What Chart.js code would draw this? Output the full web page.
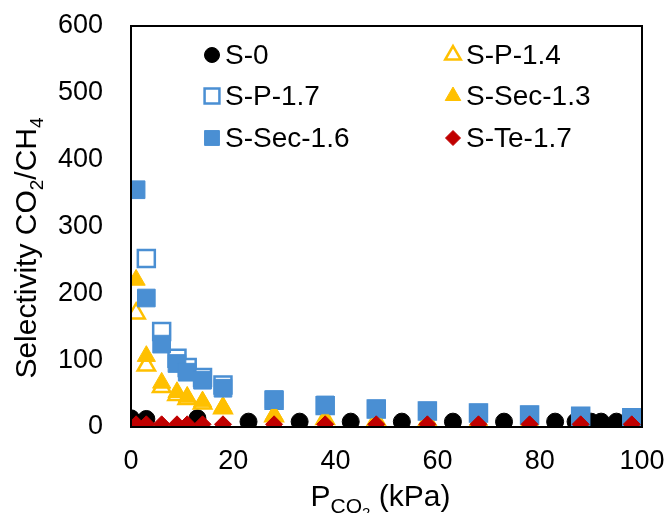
<!DOCTYPE html>
<html>
<head>
<meta charset="utf-8">
<script src="https://cdn.jsdelivr.net/npm/chart.js@4/dist/chart.umd.min.js"></script>
<style>
  html, body { margin: 0; padding: 0; background: #fff; }
  #wrap { width: 667px; height: 513px; }
</style>
</head>
<body>
<div id="wrap"><canvas id="c" width="667" height="513"></canvas></div>
<script>
const FONT = "'Liberation Sans', Arial, sans-serif";

// series data (P_CO2 in kPa, selectivity)
const s0X = [0, 3, 13, 23, 33, 43, 53, 63, 73, 83, 87, 90, 92, 95];
const s0Y = [13, 12, 13, 8, 8, 8, 8, 8, 8, 8, 8, 8, 8, 8];

const sp14X = [1, 3, 6, 9, 11, 14, 18, 28, 38, 48, 58, 68, 78, 88, 98];
const sp14Y = [170, 92, 60, 48, 42, 35, 28, 16, 12, 10, 9, 8, 7, 6, 6];

const sp17X = [3, 6, 9, 11, 14, 18, 28, 38, 48, 58, 68, 78, 88, 98];
const sp17Y = [252, 143, 103, 89, 74, 63, 40, 32, 27, 24, 21, 18, 16, 14];

const sec13X = [1, 3, 6, 9, 11, 14, 18, 28, 38, 48, 58, 68, 78, 88, 98];
const sec13Y = [220, 106, 66, 52, 45, 38, 30, 18, 12, 10, 9, 8, 7, 6, 6];

const sec16X = [1, 3, 6, 9, 11, 14, 18, 28, 38, 48, 58, 68, 78, 88, 98];
const sec16Y = [355, 193, 124, 95, 82, 70, 58, 41, 33, 27, 24, 21, 18, 16, 14];

const te17X = [1, 3, 6, 9, 11, 14, 18, 28, 38, 48, 58, 68, 78, 88, 98];
const te17Y = [4, 4, 4, 4, 4, 4, 4, 4, 4, 4, 4, 4, 4, 4, 4];

const xTicks = [0, 20, 40, 60, 80, 100];
const yTicks = [0, 100, 200, 300, 400, 500, 600];

function pts(xs, ys) {
  return xs.map((x, i) => ({ x: x, y: ys[i] }));
}

const yellow = "#ffc000";
const blue = "#4a8fd3";
const red = "#c00000";

const datasets = [
  { label: "S-0", data: pts(s0X, s0Y), pointStyle: "circle", pointRadius: 8.5,
    backgroundColor: "#000", borderColor: "#000", borderWidth: 1, order: 6 },
  { label: "S-P-1.4", data: pts(sp14X, sp14Y), pointStyle: "triangle", pointRadius: 10,
    backgroundColor: "#fff", borderColor: yellow, borderWidth: 2.5, order: 5 },
  { label: "S-P-1.7", data: pts(sp17X, sp17Y), pointStyle: "rect", pointRadius: 12,
    backgroundColor: "#fff", borderColor: blue, borderWidth: 2.5, order: 4 },
  { label: "S-Sec-1.3", data: pts(sec13X, sec13Y), pointStyle: "triangle", pointRadius: 10.5,
    backgroundColor: yellow, borderColor: yellow, borderWidth: 1, order: 3 },
  { label: "S-Sec-1.6", data: pts(sec16X, sec16Y), pointStyle: "rect", pointRadius: 12.5,
    backgroundColor: blue, borderColor: blue, borderWidth: 1, order: 2 },
  { label: "S-Te-1.7", data: pts(te17X, te17Y), pointStyle: "rectRot", pointRadius: 8.5,
    backgroundColor: red, borderColor: red, borderWidth: 1, order: 1 }
];

// plot frame
const framePlugin = {
  id: "frame",
  afterDatasetsDraw(chart) {
    const a = chart.chartArea, ctx = chart.ctx;
    ctx.save();
    ctx.strokeStyle = "#000";
    ctx.lineWidth = 2;
    ctx.strokeRect(a.left, a.top, a.right - a.left, a.bottom - a.top);
    ctx.restore();
  }
};

// legend in two columns inside the plot
const legendPlugin = {
  id: "gridLegend",
  afterDraw(chart) {
    const ctx = chart.ctx;
    const cols = [212, 453];
    const rows = [55, 96, 138];
    ctx.save();
    ctx.font = "28px " + FONT;
    ctx.textBaseline = "middle";
    ctx.fillStyle = "#000";
    chart.data.datasets.forEach((ds, i) => {
      const cx = cols[i % 2], cy = rows[Math.floor(i / 2)];
      ctx.fillStyle = ds.backgroundColor;
      ctx.strokeStyle = ds.borderColor;
      ctx.lineWidth = ds.borderWidth;
      const r = ds.pointStyle === "rect" ? 10.5 : ds.pointStyle === "triangle" ? 9 : 7.5;
      Chart.helpers.drawPoint(ctx, { pointStyle: ds.pointStyle, radius: r, borderWidth: ds.borderWidth }, cx, cy);
      ctx.fillStyle = "#000";
      ctx.fillText(ds.label, cx + 13, cy + 1);
    });
    ctx.restore();
  }
};

// axis titles with subscripts
function drawRuns(ctx, runs, x, y) {
  let cx = x;
  for (const r of runs) {
    ctx.font = r.size + "px " + FONT;
    ctx.fillText(r.t, cx, y + (r.dy || 0));
    cx += ctx.measureText(r.t).width;
  }
}
function runsWidth(ctx, runs) {
  let w = 0;
  for (const r of runs) {
    ctx.font = r.size + "px " + FONT;
    w += ctx.measureText(r.t).width;
  }
  return w;
}
const titlePlugin = {
  id: "titles",
  afterDraw(chart) {
    const ctx = chart.ctx, a = chart.chartArea;
    ctx.save();
    ctx.fillStyle = "#000";
    ctx.textBaseline = "alphabetic";
    const yRuns = [
      { t: "Selectivity CO", size: 30 },
      { t: "2", size: 19, dy: 7 },
      { t: "/CH", size: 30 },
      { t: "4", size: 19, dy: 7 }
    ];
    const yw = runsWidth(ctx, yRuns);
    ctx.translate(36, 248);
    ctx.rotate(-Math.PI / 2);
    drawRuns(ctx, yRuns, -yw / 2, 0);
    ctx.restore();

    ctx.save();
    ctx.fillStyle = "#000";
    const xRuns = [
      { t: "P", size: 30 },
      { t: "CO", size: 21, dy: 7 },
      { t: "2", size: 15, dy: 12 },
      { t: " (kPa)", size: 30 }
    ];
    const xw = runsWidth(ctx, xRuns);
    drawRuns(ctx, xRuns, (a.left + a.right) / 2 - 6 - xw / 2, 506);
    ctx.restore();
  }
};

new Chart(document.getElementById("c"), {
  type: "scatter",
  data: { datasets },
  plugins: [framePlugin, legendPlugin, titlePlugin],
  options: {
    responsive: false,
    animation: false,
    layout: { padding: { top: 26, right: 25, left: 0, bottom: 0 } },
    plugins: { legend: { display: false }, tooltip: { enabled: false } },
    scales: {
      x: {
        type: "linear",
        min: 0, max: 100,
        afterBuildTicks(s) { s.ticks = xTicks.map(v => ({ value: v })); },
        afterFit(s) { s.height = 86; s.paddingLeft = 0; s.paddingRight = 0; },
        grid: { display: false, drawTicks: false },
        border: { display: false },
        ticks: { color: "#000", padding: 18, font: { family: FONT, size: 27 } }
      },
      y: {
        type: "linear",
        min: 0, max: 600,
        afterBuildTicks(s) { s.ticks = yTicks.map(v => ({ value: v })); },
        afterFit(s) { s.width = 131; s.paddingTop = 0; s.paddingBottom = 0; },
        grid: { display: false, drawTicks: false },
        border: { display: false },
        ticks: { color: "#000", padding: 28, font: { family: FONT, size: 27 } }
      }
    }
  }
});
</script>
</body>
</html>
